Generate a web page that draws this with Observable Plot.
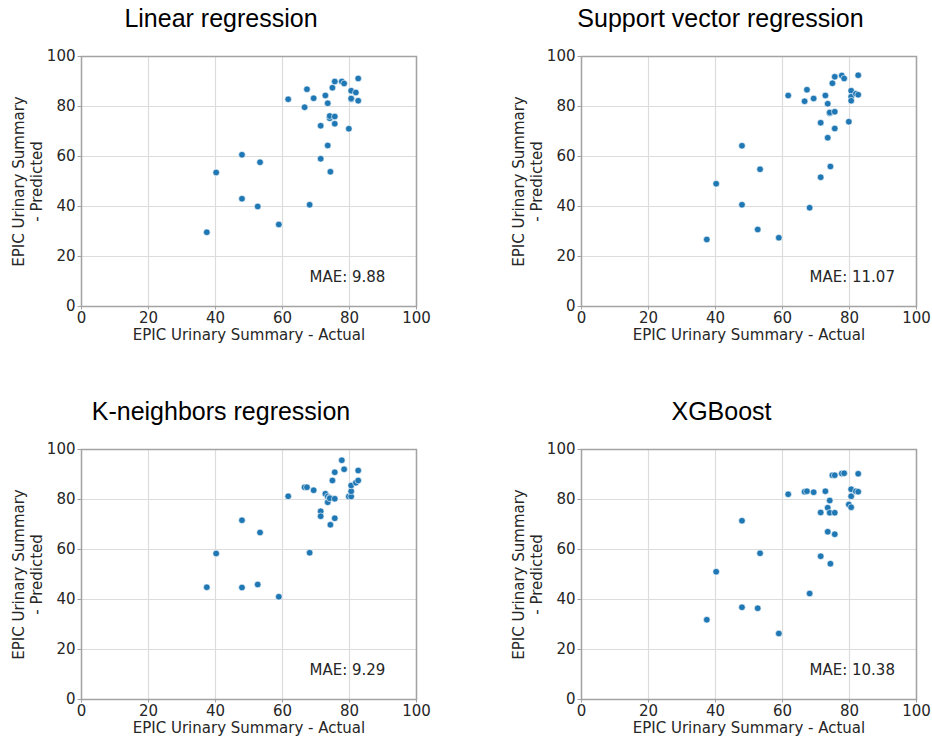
<!DOCTYPE html>
<html><head><meta charset="utf-8">
<script src="https://cdn.jsdelivr.net/npm/d3@7"></script>
<script src="https://cdn.jsdelivr.net/npm/@observablehq/plot@0.6"></script>
<style>
body{margin:0;background:#fff;}
#wrap{position:relative;width:932px;height:740px;overflow:hidden;background:#fff;}
.title{position:absolute;font-family:"Liberation Sans",Arial,sans-serif;font-size:25px;line-height:25px;color:#000;white-space:nowrap;transform:translateX(-50%);}
.panel{position:absolute;width:466px;height:310px;}
.panel svg{max-width:none !important;width:466px;height:310px;}
</style></head><body><div id="wrap"></div>
<script>
// EPIC Urinary Summary - Actual (shared across models)
const actual = [37.4, 40.2, 47.9, 47.9, 52.6, 53.3, 58.9, 61.7, 66.6, 67.3, 68.1, 69.3, 71.4, 71.4, 72.8, 73.5, 73.5, 74.1, 74.1, 74.3, 74.9, 75.6, 75.6, 75.6, 77.7, 78.4, 79.8, 80.5, 80.5, 80.5, 81.9, 82.6, 82.6];
// Predicted values per model
const linearPred = [29.7, 53.6, 60.7, 43.1, 40.0, 57.7, 32.8, 82.9, 79.7, 86.9, 40.7, 83.3, 72.3, 59.1, 84.4, 81.3, 64.4, 75.3, 76.2, 53.9, 87.5, 76.0, 73.1, 90.0, 90.0, 89.2, 71.1, 86.3, 82.9, 83.2, 85.6, 91.2, 82.3];
const svrPred    = [26.8, 49.1, 64.3, 40.7, 30.8, 54.9, 27.5, 84.4, 82.1, 86.7, 39.5, 83.2, 73.5, 51.7, 84.4, 81.1, 67.5, 77.3, 77.6, 56.0, 89.3, 77.9, 71.2, 91.9, 92.4, 91.2, 73.9, 86.3, 83.9, 82.3, 85.1, 92.5, 84.7];
const knnPred    = [44.9, 58.4, 71.7, 44.8, 46.0, 66.8, 41.1, 81.3, 84.9, 84.9, 58.7, 83.7, 75.3, 73.3, 82.3, 81.2, 78.9, 80.7, 80.5, 69.9, 87.6, 80.3, 72.5, 90.9, 95.7, 92.1, 81.2, 81.2, 83.3, 85.6, 86.7, 91.6, 87.6];
const xgbPred    = [31.9, 51.1, 71.5, 36.9, 36.5, 58.5, 26.4, 82.1, 83.1, 83.3, 42.4, 82.9, 74.8, 57.3, 83.3, 76.7, 67.1, 74.7, 79.6, 54.3, 89.7, 74.7, 66.1, 89.7, 90.4, 90.5, 78.0, 76.9, 81.3, 84.1, 83.3, 90.3, 83.1];

const titles = ["Linear regression", "Support vector regression", "K-neighbors regression", "XGBoost"];
const maeLabels = ["MAE: 9.88", "MAE: 11.07", "MAE: 9.29", "MAE: 10.38"];
const tickValues = [0, 20, 40, 60, 80, 100];
const xLabel = "EPIC Urinary Summary - Actual";
const yLabel = "EPIC Urinary Summary\n- Predicted";

const preds = [linearPred, svrPred, knnPred, xgbPred];
const panelPos = [[0, 40], [500, 40], [0, 433], [500, 433]];
const titlePos = [[221, 6], [720.5, 6], [221, 399], [721.5, 399]];

const gridColor = "#dcdcdc";
const frameColor = "#a3a3a3";
const textColor = "#262626";

function panel(pred, mae) {
  const data = actual.map((a, i) => ({a, p: pred[i]}));
  return Plot.plot({
    width: 466, height: 310,
    marginLeft: 81, marginRight: 50, marginTop: 16, marginBottom: 44,
    style: {fontFamily: "'DejaVu Sans', sans-serif", fontSize: "15px", color: textColor, background: "transparent", overflow: "visible"},
    x: {domain: [0, 100]},
    y: {domain: [0, 100]},
    marks: [
      Plot.gridX(tickValues, {stroke: gridColor, strokeOpacity: 1, strokeWidth: 1.2}),
      Plot.gridY(tickValues, {stroke: gridColor, strokeOpacity: 1, strokeWidth: 1.2}),
      Plot.frame({stroke: frameColor, strokeWidth: 1.5}),
      Plot.axisX(tickValues, {tickSize: 3.5, tickPadding: 2, stroke: frameColor, label: null}),
      Plot.axisY(tickValues, {tickSize: 3.5, tickPadding: 2.5, stroke: frameColor, label: null}),
      Plot.dot(data, {x: "a", y: "p", r: 3.3, fill: "#1f77b4", stroke: "white", strokeWidth: 0.6}),
      Plot.text([mae], {frameAnchor: "bottom-left", dx: 228, dy: -25, textAnchor: "start", fill: textColor}),
      Plot.text([yLabel], {frameAnchor: "left", dx: -54, rotate: -90, textAnchor: "middle", lineHeight: 1.2, fill: textColor}),
      Plot.text([xLabel], {frameAnchor: "bottom", dy: 33, fill: textColor})
    ]
  });
}

const wrap = document.getElementById("wrap");
preds.forEach((pred, i) => {
  const t = document.createElement("div");
  t.className = "title";
  t.textContent = titles[i];
  t.style.left = titlePos[i][0] + "px";
  t.style.top = titlePos[i][1] + "px";
  wrap.appendChild(t);
  const d = document.createElement("div");
  d.className = "panel";
  d.style.left = panelPos[i][0] + "px";
  d.style.top = panelPos[i][1] + "px";
  d.appendChild(panel(pred, maeLabels[i]));
  wrap.appendChild(d);
});
</script>
</body></html>
